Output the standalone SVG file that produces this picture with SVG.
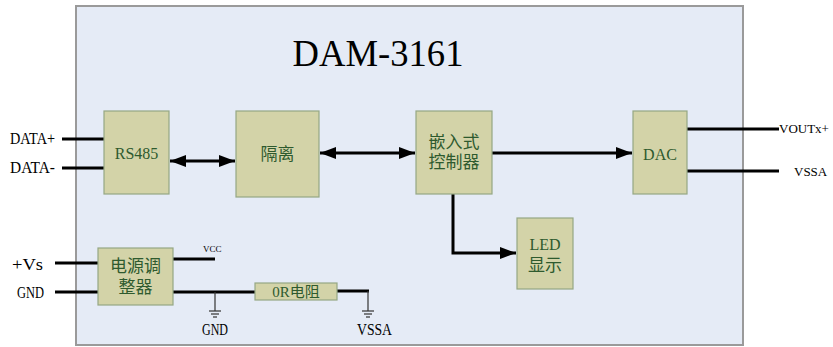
<svg xmlns="http://www.w3.org/2000/svg" width="833" height="347" viewBox="0 0 833 347">
<defs>
<style>
.frame{fill:#e5ebf6;stroke:#9a9a9a;stroke-width:2}
.box{fill:#d3d3a8;stroke:#95a784;stroke-width:1.2}
.bt{font-family:"Liberation Serif","Noto Sans CJK SC",serif;font-size:17px;fill:#2e5a2e;text-anchor:middle}
.lbl{font-family:"Liberation Serif","Noto Sans CJK SC",serif;font-size:16px;fill:#000}
.w{stroke:#000;stroke-width:3;fill:none}
.g{stroke:#333;stroke-width:1.2;fill:none}
</style>
<marker id="ah" viewBox="0 0 16 12" refX="16" refY="6" markerWidth="16" markerHeight="12" markerUnits="userSpaceOnUse" orient="auto-start-reverse">
<path d="M0,0 L16,6 L0,12 Z" fill="#000"/>
</marker>
</defs>
<rect x="0" y="0" width="833" height="347" fill="#fff"/>
<rect class="frame" x="76" y="6" width="667" height="339"/>
<text x="378" y="66" font-family="Liberation Serif,serif" font-size="38" text-anchor="middle" textLength="171" lengthAdjust="spacingAndGlyphs">DAM-3161</text>

<g id="connectors">
<line class="w" x1="62" y1="139" x2="104" y2="139"/>
<line class="w" x1="62" y1="168" x2="104" y2="168"/>
<line class="w" x1="170" y1="161" x2="235" y2="161" marker-start="url(#ah)" marker-end="url(#ah)"/>
<line class="w" x1="320" y1="153" x2="415" y2="153" marker-start="url(#ah)" marker-end="url(#ah)"/>
<line class="w" x1="492" y1="153" x2="632" y2="153" marker-end="url(#ah)"/>
<line class="w" x1="687" y1="129" x2="779" y2="129"/>
<line class="w" x1="687" y1="171" x2="779" y2="171"/>
<polyline class="w" points="453,194 453,253 516,253" marker-end="url(#ah)"/>
<line class="w" x1="55" y1="263" x2="98" y2="263"/>
<line class="w" x1="55" y1="292" x2="98" y2="292"/>
<line class="w" x1="173" y1="259" x2="215" y2="259"/>
<line class="w" x1="173" y1="292" x2="255" y2="292"/>
<polyline class="w" points="337,291 369,291"/>
<line class="g" x1="215" y1="292" x2="215" y2="311"/>
<line class="g" x1="209" y1="311" x2="221" y2="311"/>
<line class="g" x1="211" y1="314" x2="219" y2="314"/>
<line class="g" x1="213" y1="317" x2="217" y2="317"/>
<line class="g" x1="368" y1="291" x2="368" y2="311"/>
<line class="g" x1="362" y1="311" x2="374" y2="311"/>
<line class="g" x1="364" y1="314" x2="372" y2="314"/>
<line class="g" x1="366" y1="317" x2="370" y2="317"/>
</g>

<g id="labels">
<text class="lbl" x="10" y="144" textLength="45" lengthAdjust="spacingAndGlyphs">DATA+</text>
<text class="lbl" x="10" y="173" textLength="45" lengthAdjust="spacingAndGlyphs">DATA-</text>
<text class="lbl" x="779" y="133" style="font-size:13px">VOUTx+</text>
<text class="lbl" x="794" y="176" style="font-size:13px">VSSA</text>
<text class="lbl" x="12" y="270" style="font-size:17px" textLength="31" lengthAdjust="spacingAndGlyphs">+Vs</text>
<text class="lbl" x="17" y="298" textLength="27" lengthAdjust="spacingAndGlyphs">GND</text>
<text class="lbl" x="203" y="252" style="font-size:9px">VCC</text>
<text class="lbl" x="202" y="335" textLength="26" lengthAdjust="spacingAndGlyphs">GND</text>
<text class="lbl" x="357" y="335" textLength="35" lengthAdjust="spacingAndGlyphs">VSSA</text>
</g>

<g id="rs485"><rect class="box" x="104" y="111" width="65" height="83"/><text class="bt" x="136.5" y="159" style="font-size:16px">RS485</text></g>
<g id="isolation"><rect class="box" x="236" y="111" width="83" height="86"/><text class="bt" x="277.5" y="160">隔离</text></g>
<g id="controller"><rect class="box" x="416" y="111" width="76" height="83"/><text class="bt" x="454" y="148">嵌入式</text><text class="bt" x="454" y="168">控制器</text></g>
<g id="dac"><rect class="box" x="633" y="111" width="54" height="83"/><text class="bt" x="660" y="160" style="font-size:16px">DAC</text></g>
<g id="led"><rect class="box" x="517" y="218" width="56" height="71"/><text class="bt" x="545" y="250" style="font-size:16px">LED</text><text class="bt" x="545" y="271">显示</text></g>
<g id="power"><rect class="box" x="98" y="248" width="75" height="57"/><text class="bt" x="135.5" y="272">电源调</text><text class="bt" x="135.5" y="293">整器</text></g>
<g id="resistor"><rect class="box" x="255" y="283" width="82" height="17"/><text class="bt" x="296" y="297" style="font-size:15px">0R电阻</text></g>
</svg>
